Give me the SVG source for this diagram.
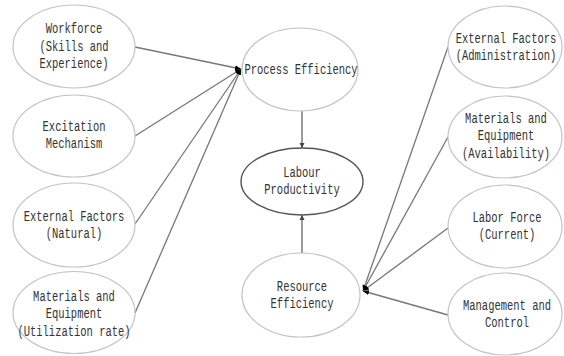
<svg xmlns="http://www.w3.org/2000/svg" width="564" height="356" viewBox="0 0 564 356">
<style>
.node ellipse{fill:#fff;stroke:#c4c4c4;stroke-width:1.2}
#labour ellipse{stroke:#555;stroke-width:1.4}
text{font-family:"Liberation Mono","Courier New",monospace;font-size:14.5px;fill:#333;text-anchor:middle}
.conn line{stroke:#777;stroke-width:1.3}
.conn line.v{stroke:#666}
</style>
<defs>
<marker id="ah" markerUnits="userSpaceOnUse" markerWidth="7" markerHeight="7" refX="6" refY="3.5" orient="auto">
<path d="M0,1 L6,3.5 L0,6 z" fill="#000"/>
</marker>
<marker id="av" markerUnits="userSpaceOnUse" markerWidth="6" markerHeight="6" refX="5" refY="3" orient="auto">
<path d="M0,0.5 L5,3 L0,5.5 z" fill="#444"/>
</marker>
</defs>
<rect width="564" height="356" fill="#fff"/>
<g class="conn">
<line x1="135" y1="47" x2="241" y2="69" marker-end="url(#ah)"/>
<line x1="135" y1="136" x2="241" y2="69" marker-end="url(#ah)"/>
<line x1="135" y1="224" x2="241" y2="69" marker-end="url(#ah)"/>
<line x1="135" y1="313" x2="241" y2="69" marker-end="url(#ah)"/>
<line x1="448" y1="47" x2="363" y2="291" marker-end="url(#ah)"/>
<line x1="448" y1="137" x2="363" y2="291" marker-end="url(#ah)"/>
<line x1="448" y1="228" x2="363" y2="291" marker-end="url(#ah)"/>
<line x1="448" y1="315" x2="363" y2="291" marker-end="url(#ah)"/>
<line class="v" x1="302" y1="111" x2="302" y2="148" marker-end="url(#av)"/>
<line class="v" x1="302" y1="253" x2="302" y2="215" marker-end="url(#av)"/>
</g>
<g id="workforce" class="node"><ellipse cx="74" cy="46.5" rx="61" ry="41.5"/>
<g transform="translate(74 0) scale(0.724 1)"><text x="0" y="33">Workforce</text><text x="0" y="51">(Skills and</text><text x="0" y="68">Experience)</text></g></g>
<g id="excitation" class="node"><ellipse cx="74" cy="136" rx="61" ry="41"/>
<g transform="translate(74 0) scale(0.724 1)"><text x="0" y="131">Excitation</text><text x="0" y="148">Mechanism</text></g></g>
<g id="natural" class="node"><ellipse cx="74" cy="225" rx="61" ry="42"/>
<g transform="translate(74 0) scale(0.724 1)"><text x="0" y="221">External Factors</text><text x="0" y="238">(Natural)</text></g></g>
<g id="utilization" class="node"><ellipse cx="74" cy="312.5" rx="61" ry="41"/>
<g transform="translate(74 0) scale(0.724 1)"><text x="0" y="301">Materials and</text><text x="0" y="318">Equipment</text><text x="0" y="336">(Utilization rate)</text></g></g>
<g id="process" class="node"><ellipse cx="300" cy="69.5" rx="58" ry="41.5"/>
<g transform="translate(301 0) scale(0.724 1)"><text x="0" y="74">Process Efficiency</text></g></g>
<g id="labour" class="node"><ellipse cx="302" cy="181.5" rx="61" ry="33.5"/>
<g transform="translate(302 0) scale(0.724 1)"><text x="0" y="177">Labour</text><text x="0" y="194">Productivity</text></g></g>
<g id="resource" class="node"><ellipse cx="301" cy="295" rx="59" ry="42"/>
<g transform="translate(302 0) scale(0.724 1)"><text x="0" y="291">Resource</text><text x="0" y="308">Efficiency</text></g></g>
<g id="administration" class="node"><ellipse cx="505" cy="47" rx="57" ry="41"/>
<g transform="translate(506 0) scale(0.724 1)"><text x="0" y="43">External Factors</text><text x="0" y="60">(Administration)</text></g></g>
<g id="availability" class="node"><ellipse cx="505" cy="137" rx="57" ry="41"/>
<g transform="translate(506 0) scale(0.724 1)"><text x="0" y="123">Materials and</text><text x="0" y="140">Equipment</text><text x="0" y="158">(Availability)</text></g></g>
<g id="laborforce" class="node"><ellipse cx="505" cy="226.5" rx="57" ry="41.5"/>
<g transform="translate(507 0) scale(0.724 1)"><text x="0" y="222">Labor Force</text><text x="0" y="239">(Current)</text></g></g>
<g id="management" class="node"><ellipse cx="505" cy="314" rx="57" ry="41"/>
<g transform="translate(507 0) scale(0.724 1)"><text x="0" y="310">Management and</text><text x="0" y="327">Control</text></g></g>
</svg>
